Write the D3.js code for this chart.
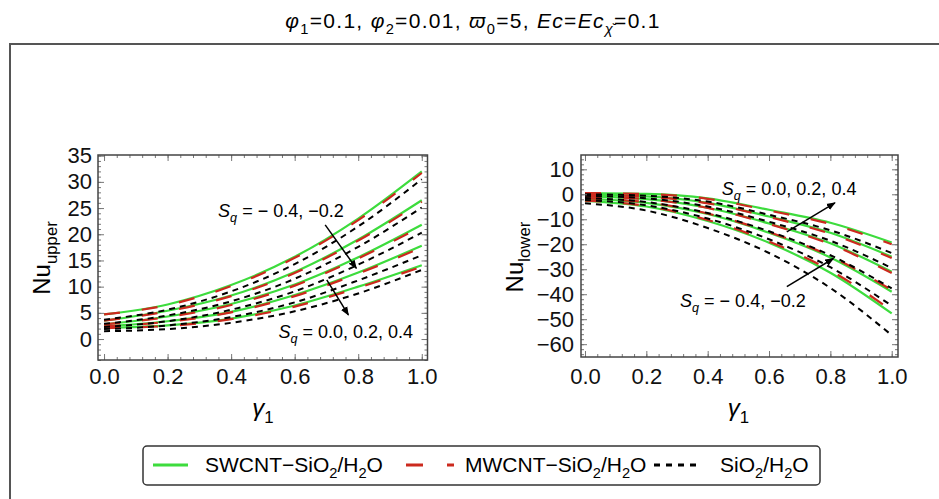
<!DOCTYPE html>
<html>
<head>
<meta charset="utf-8">
<script src="https://cdn.jsdelivr.net/npm/d3@7"></script>
<style>
body { margin: 0; background: #fff; }
svg text { font-family: "Liberation Sans", Arial, sans-serif; }
</style>
</head>
<body>
<svg id="chart" width="939" height="499"></svg>
<script>

// gamma_1 sample points used for every curve
var xVals = [0, 0.2, 0.4, 0.6, 0.8, 1.0];
var sqValues = [-0.4, -0.2, 0.0, 0.2, 0.4];   // rows of every table below
var xMajorTicks = [0, 0.2, 0.4, 0.6, 0.8, 1.0];

// Nu_upper
var upperSWCNT = [
  [4.7, 6.6, 10.3, 15.7, 23.0, 32.0],
  [3.5, 5.4, 8.3, 12.8, 19.0, 26.5],
  [2.8, 4.3, 6.7, 10.4, 15.6, 21.8],
  [2.4, 3.4, 5.2, 8.4, 12.7, 17.8],
  [2.1, 2.6, 3.9, 6.4, 10.0, 14.1]
];
var upperMWCNT = [
  [4.7, 6.5, 10.1, 15.5, 22.7, 31.7],
  [3.5, 5.3, 8.2, 12.6, 18.8, 26.2],
  [2.8, 4.2, 6.5, 10.2, 15.4, 21.5],
  [2.4, 3.3, 5.1, 8.2, 12.5, 17.5],
  [2.1, 2.5, 3.8, 6.2, 9.8, 13.8]
];
var upperSiO2 = [
  [3.7, 5.6, 9.1, 14.3, 21.5, 30.5],
  [2.9, 4.5, 7.2, 11.5, 17.6, 25.1],
  [2.3, 3.4, 5.6, 9.1, 14.2, 20.3],
  [1.9, 2.6, 4.2, 7.0, 11.2, 16.0],
  [1.5, 1.9, 3.1, 5.3, 8.7, 13.2]
];
var upperYTicks = [0, 5, 10, 15, 20, 25, 30, 35];

// Nu_lower
var lowerSWCNT = [
  [-2.6, -4.9, -10.7, -19.4, -31.4, -47.7],
  [-1.7, -3.4, -7.9, -15.4, -25.3, -39.0],
  [-0.8, -1.9, -5.4, -11.7, -19.6, -31.0],
  [-0.1, -0.8, -3.4, -8.9, -15.4, -25.0],
  [0.5, 0.2, -1.6, -6.2, -11.4, -19.3]
];
var lowerMWCNT = [
  [-2.5, -4.7, -10.3, -18.9, -30.5, -46.5],
  [-1.6, -3.2, -7.7, -15.1, -24.8, -38.3],
  [-0.9, -2.0, -5.5, -11.9, -20.0, -31.5],
  [-0.2, -0.9, -3.6, -9.1, -15.8, -25.5],
  [0.5, 0.1, -1.8, -6.5, -11.9, -20.0]
];
var lowerSiO2 = [
  [-3.6, -6.5, -13.5, -23.5, -37.5, -56.4],
  [-2.3, -4.4, -9.7, -18.0, -29.2, -44.6],
  [-1.5, -3.1, -7.5, -14.8, -24.4, -37.7],
  [-0.6, -1.6, -4.9, -11.0, -18.6, -29.5],
  [0.0, -0.6, -2.9, -8.2, -14.4, -23.5]
];
var lowerYTicks = [-60, -50, -40, -30, -20, -10, 0, 10];

var greenCol = '#3ddc3d';
var redCol = '#cc2a1e';

var svg = d3.select('#chart');

svg.append('defs').append('marker')
   .attr('id', 'arrowhead')
   .attr('viewBox', '0 0 10 10')
   .attr('refX', 9).attr('refY', 5)
   .attr('markerWidth', 9).attr('markerHeight', 9)
   .attr('markerUnits', 'userSpaceOnUse')
   .attr('orient', 'auto')
   .append('path')
   .attr('d', 'M0,1 L10,5 L0,9 Z')
   .attr('fill', '#000');

// outer frame, runs off the right and bottom edge
svg.append('rect')
   .attr('x', 10).attr('y', 44)
   .attr('width', 1000).attr('height', 600)
   .attr('fill', 'none')
   .attr('stroke', '#555')
   .attr('stroke-width', 2);

// writes a list of [text, sub, italic] parts into a text element
function richText(sel, parts, size) {
    var subOn = false;
    parts.forEach(function(p) {
        var t = sel.append('tspan').text(p[0]);
        if (p[1] && !subOn) { t.attr('dy', size * 0.3).attr('font-size', size * 0.7); subOn = true; }
        else if (p[1]) { t.attr('font-size', size * 0.7); }
        else if (subOn) { t.attr('dy', -size * 0.3); subOn = false; }
        if (p[2]) t.attr('font-style', 'italic');
    });
}

var title = svg.append('text')
   .attr('x', 473).attr('y', 28)
   .attr('text-anchor', 'middle')
   .attr('font-size', 21)
   .attr('letter-spacing', 1.3);
richText(title, [['φ',0,1],['1',1],['=0.1, ',0],['φ',0,1],['2',1],['=0.01, ',0],
                 ['ϖ',0,1],['0',1],['=5, ',0],['Ec',0,1],['=',0],['Ec',0,1],['χ̆',1,1],['=0.1',0]], 21);

function drawPanel(cfg) {
    var g = svg.append('g');
    var x = d3.scaleLinear().domain(cfg.xDomain).range([cfg.left, cfg.right]);
    var y = d3.scaleLinear().domain(cfg.yDomain).range([cfg.bottom, cfg.top]);

    g.append('clipPath').attr('id', cfg.id + '-clip')
     .append('rect')
     .attr('x', cfg.left).attr('y', cfg.top)
     .attr('width', cfg.right - cfg.left).attr('height', cfg.bottom - cfg.top);

    var line = d3.line()
        .x(function(d, i) { return x(xVals[i]); })
        .y(function(d) { return y(d); })
        .curve(d3.curveMonotoneX);

    var curves = g.append('g').attr('clip-path', 'url(#' + cfg.id + '-clip)');

    curves.selectAll('.sw').data(cfg.sw).enter().append('path')
        .attr('class', 'sw')
        .attr('d', line)
        .attr('fill', 'none')
        .attr('stroke', greenCol)
        .attr('stroke-width', 2.2);

    curves.selectAll('.mw').data(cfg.mw).enter().append('path')
        .attr('class', 'mw')
        .attr('d', line)
        .attr('fill', 'none')
        .attr('stroke', redCol)
        .attr('stroke-width', 2.2)
        .attr('stroke-dasharray', '16,22');

    curves.selectAll('.si').data(cfg.si).enter().append('path')
        .attr('class', 'si')
        .attr('d', line)
        .attr('fill', 'none')
        .attr('stroke', '#000')
        .attr('stroke-width', 2)
        .attr('stroke-dasharray', '6,5');

    // ticks, pointing inwards on all four sides
    var xMinor = d3.range(0, 1.0001, 0.04);
    var yMinor = d3.range(cfg.yMinorStart, cfg.yDomain[1], cfg.yMinorStep);

    function tickAxis(axis, tx, ty) {
        var a = g.append('g').attr('transform', 'translate(' + tx + ',' + ty + ')').call(axis);
        a.select('.domain').remove();
        a.selectAll('line').attr('stroke', '#777');
        a.selectAll('text').attr('font-size', 22).attr('font-family', '"Liberation Sans", Arial, sans-serif').attr('fill', '#111');
        return a;
    }

    tickAxis(d3.axisBottom(x).tickValues(xMinor).tickSizeInner(-3).tickSizeOuter(0).tickFormat(''), 0, cfg.bottom);
    tickAxis(d3.axisTop(x).tickValues(xMinor).tickSizeInner(-3).tickSizeOuter(0).tickFormat(''), 0, cfg.top);
    tickAxis(d3.axisLeft(y).tickValues(yMinor).tickSizeInner(-3).tickSizeOuter(0).tickFormat(''), cfg.left, 0);
    tickAxis(d3.axisRight(y).tickValues(yMinor).tickSizeInner(-3).tickSizeOuter(0).tickFormat(''), cfg.right, 0);

    tickAxis(d3.axisBottom(x).tickValues(xMajorTicks).tickSizeInner(-6).tickSizeOuter(0)
               .tickPadding(cfg.xPad).tickFormat(d3.format('.1f')), 0, cfg.bottom);
    tickAxis(d3.axisTop(x).tickValues(xMajorTicks).tickSizeInner(-6).tickSizeOuter(0).tickFormat(''), 0, cfg.top);
    tickAxis(d3.axisLeft(y).tickValues(cfg.yTicks).tickSizeInner(-6).tickSizeOuter(0)
               .tickPadding(cfg.yPad).tickFormat(d3.format('d')), cfg.left, 0);
    tickAxis(d3.axisRight(y).tickValues(cfg.yTicks).tickSizeInner(-6).tickSizeOuter(0).tickFormat(''), cfg.right, 0);

    g.append('rect')
     .attr('x', cfg.left).attr('y', cfg.top)
     .attr('width', cfg.right - cfg.left).attr('height', cfg.bottom - cfg.top)
     .attr('fill', 'none')
     .attr('stroke', '#444')
     .attr('stroke-width', 1.5);

    // axis titles
    var xl = g.append('text')
       .attr('x', x(0.5)).attr('y', 416)
       .attr('text-anchor', 'middle')
       .attr('font-size', 24);
    richText(xl, [['γ',0,1],['1',1]], 24);

    var yl = g.append('text')
       .attr('transform', 'translate(' + cfg.yLabelX + ',' + cfg.yLabelY + ') rotate(-90)')
       .attr('text-anchor', 'middle')
       .attr('font-size', 24);
    richText(yl, [['Nu',0],[cfg.yName,1]], 24);

    // S_q notes and arrows
    cfg.notes.forEach(function(n) {
        var t = g.append('text')
           .attr('x', x(n.x)).attr('y', y(n.y))
           .attr('font-size', 18);
        richText(t, [['S',0,1],['q',1,1],[' = ' + n.label,0]], 18);
    });
    cfg.arrows.forEach(function(a) {
        g.append('line')
         .attr('x1', x(a[0])).attr('y1', y(a[1]))
         .attr('x2', x(a[2])).attr('y2', y(a[3]))
         .attr('stroke', '#000')
         .attr('stroke-width', 1.5)
         .attr('marker-end', 'url(#arrowhead)');
    });
}

drawPanel({
    id: 'upper',
    left: 98, right: 427.5, top: 155, bottom: 360,
    xDomain: [-0.019, 1.018], yDomain: [-4.0, 35.13],
    sw: upperSWCNT, mw: upperMWCNT, si: upperSiO2,
    yTicks: upperYTicks, yMinorStart: -4, yMinorStep: 1,
    xPad: 8, yPad: 6,
    yName: 'upper', yLabelX: 50, yLabelY: 258,
    notes: [{x: 0.359, y: 23.3, label: '− 0.4, −0.2'},
            {x: 0.549, y: 0.2, label: '0.0, 0.2, 0.4'}],
    arrows: [[0.696, 21.8, 0.794, 13.5],
             [0.701, 11.3, 0.769, 4.6]]
});

drawPanel({
    id: 'lower',
    left: 581, right: 898, top: 155, bottom: 357,
    xDomain: [-0.013, 1.0205], yDomain: [-65.13, 15.73],
    sw: lowerSWCNT, mw: lowerMWCNT, si: lowerSiO2,
    yTicks: lowerYTicks, yMinorStart: -64, yMinorStep: 2,
    xPad: 11, yPad: 7,
    yName: 'lower', yLabelX: 523, yLabelY: 257,
    notes: [{x: 0.446, y: -0.3, label: '0.0, 0.2, 0.4'},
            {x: 0.31, y: -45.0, label: '− 0.4, −0.2'}],
    arrows: [[0.658, -15.0, 0.815, -3.4],
             [0.658, -37.0, 0.81, -25.7]]
});

// legend
var legend = svg.append('g');
legend.append('rect')
   .attr('x', 143).attr('y', 446)
   .attr('width', 677).attr('height', 39)
   .attr('rx', 4)
   .attr('fill', '#fff')
   .attr('stroke', '#333')
   .attr('stroke-width', 1.5);

var legendItems = [
    {x1: 153, x2: 188, tx: 205, stroke: greenCol, dash: null, parts: [['SWCNT−SiO',0],['2',1],['/H',0],['2',1],['O',0]]},
    {x1: 406, x2: 454, tx: 465, stroke: redCol, dash: '17,24', parts: [['MWCNT−SiO',0],['2',1],['/H',0],['2',1],['O',0]]},
    {x1: 654, x2: 702, tx: 720, stroke: '#000', dash: '6,6', parts: [['SiO',0],['2',1],['/H',0],['2',1],['O',0]]}
];
legendItems.forEach(function(d) {
    legend.append('line')
       .attr('x1', d.x1).attr('x2', d.x2)
       .attr('y1', 465).attr('y2', 465)
       .attr('stroke', d.stroke)
       .attr('stroke-width', 3)
       .attr('stroke-dasharray', d.dash);
    var t = legend.append('text')
       .attr('x', d.tx).attr('y', 472)
       .attr('font-size', 21);
    richText(t, d.parts, 21);
});

</script>
</body>
</html>
